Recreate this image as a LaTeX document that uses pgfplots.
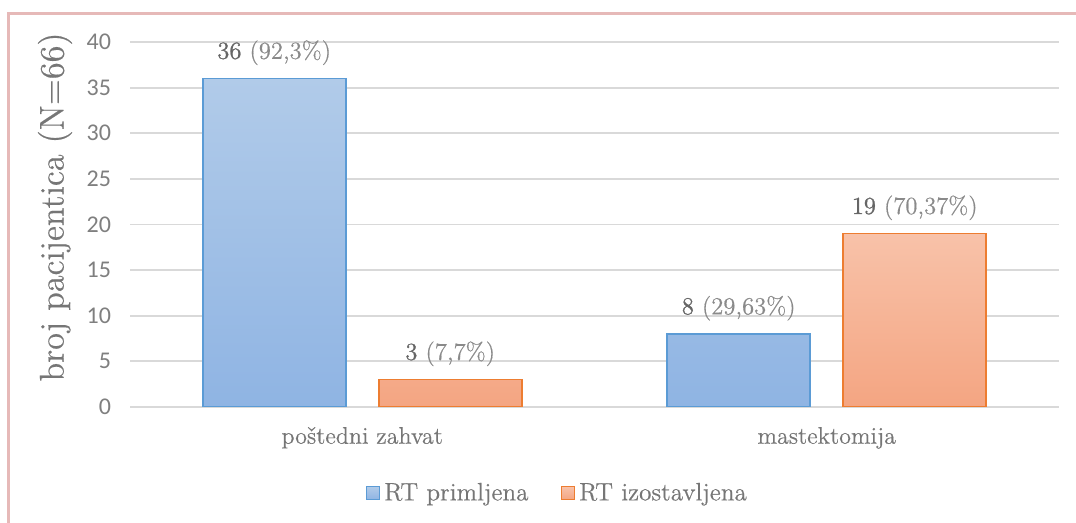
\documentclass[border=0pt]{standalone}
\usepackage{fontspec}
\usepackage{pgfplots}
\pgfplotsset{compat=1.18}
\setmainfont{lmroman12-regular.otf}[FakeBold=0.45]
\newfontfamily\numfont{lmroman12-regular.otf}[FakeBold=0.9]
\newfontfamily\carlito{Carlito}

\definecolor{framepink}{HTML}{E6B9B8}
\definecolor{gridgray}{HTML}{D9D9D9}
\definecolor{tickgray}{HTML}{7F7F7F}
\definecolor{labelgray}{HTML}{767676}
\definecolor{numgray}{HTML}{666666}
\definecolor{pctgray}{HTML}{8A8A8A}
\definecolor{blueedge}{HTML}{5B9BD5}
\definecolor{bluetop}{HTML}{B1CBE9}
\definecolor{bluebot}{HTML}{8FB4E3}
\definecolor{orangeedge}{HTML}{ED7D31}
\definecolor{orangetop}{HTML}{F8C2A9}
\definecolor{orangebot}{HTML}{F4A582}

\begin{document}
\begin{tikzpicture}
\useasboundingbox (0,0) rectangle (538pt,261.5pt);
% frame of the original figure
\draw[framepink, line width=1.25pt] (4.25pt,0) -- (4.25pt,254.75pt) -- (538pt,254.75pt);

\begin{axis}[
    at={(65pt,58pt)}, anchor=south west,
    scale only axis,
    width=464.5pt, height=182.5pt,
    ybar=16.5pt, bar width=71.5pt,
    xmin=-0.5, xmax=1.5,
    ymin=0, ymax=40,
    ytick={0,5,...,40},
    xtick={0,1},
    xticklabels={poštedni zahvat, mastektomija},
    axis line style={draw=none},
    major tick length=0pt,
    ymajorgrids=true,
    grid style={gridgray, line width=0.9pt},
    /pgf/number format/assume math mode=true,
    yticklabel style={font=\carlito\fontsize{12}{14}\selectfont, text=tickgray, xshift=-6pt},
    xticklabel style={font=\fontsize{12}{14}\selectfont, text=labelgray, yshift=-6.5pt},
    ylabel={broj pacijentica (N=66)},
    every axis y label/.style={at={(axis description cs:-0.0807,0.548)}, rotate=90, anchor=center,
        font=\fontsize{17.1}{20}\selectfont, text=labelgray},
    point meta=explicit symbolic,
    visualization depends on={y \as \rawy},
    nodes near coords={\textcolor{numgray}{\numfont\pgfmathprintnumber{\rawy}} (\pgfplotspointmeta\%)},
    every node near coord/.append style={text=pctgray, font=\fontsize{12.3}{14}\selectfont, yshift=3pt},
    legend image code/.code={\draw[#1] (0pt,-3.25pt) rectangle (6.5pt,3.25pt);},
    legend style={at={(0.461,-0.236)}, anchor=center, draw=none, fill=none,
        legend columns=2, font=\fontsize{12.6}{14}\selectfont, text=labelgray,
        /tikz/every even column/.append style={column sep=14pt}},
    legend cell align=left,
]
\addplot[draw=blueedge, top color=bluetop, bottom color=bluebot, line width=0.8pt]
    table[x=x, y=y, meta=p] {
x y p
0 36 92,3
1 8 29,63
};
\addlegendentry{RT primljena}
\addplot[draw=orangeedge, top color=orangetop, bottom color=orangebot, line width=0.8pt]
    table[x=x, y=y, meta=p] {
x y p
0 3 7,7
1 19 70,37
};
\addlegendentry{RT izostavljena}
\end{axis}
\end{tikzpicture}
\end{document}
